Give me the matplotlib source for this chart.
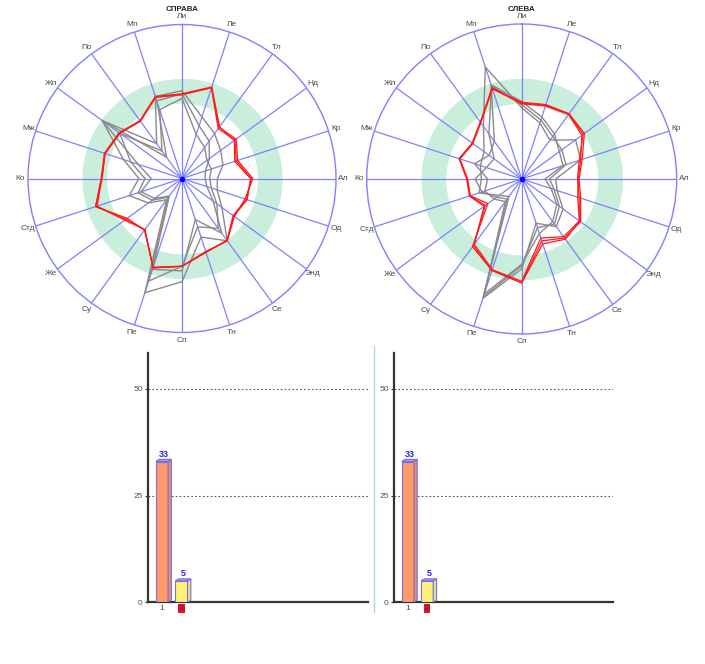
import numpy as np
import matplotlib
matplotlib.use("Agg")
import matplotlib.pyplot as plt
from matplotlib.patches import Polygon
from matplotlib.lines import Line2D

plt.rcParams['font.family'] = ['Liberation Sans', 'DejaVu Sans']

# ---------------- data ----------------
spokes = ["Ли", "Ле", "Тл", "Нд", "Кр", "Ал", "Од", "Энд", "Се", "Тн",
          "Сп", "Пе", "Су", "Же", "Стд", "Ко", "Мж", "Жп", "По", "Мп"]

band_low = 49
band_high = 65
r_max = 100

# СПРАВА (left radar)
right_red1 = [54.5, 62, 40, 42.5, 37, 45, 44, 41, 50, 50, 57, 61, 41, 45, 59, 52, 52.5, 50, 46, 55.5]
right_red2 = [54.5, 62, 41, 43.5, 38, 46, 43, 42, 50, 50, 57, 61, 41, 46, 58, 52, 52.5, 50, 46, 55.5]
right_red3 = [55, 62.5, 41.5, 42, 36, 44.5, 44.5, 41.5, 49.5, 50.5, 57, 60.5, 41.5, 44, 59, 52.5, 53, 50.5, 46.5, 56]
right_gray1 = [57, 42, 36, 31, 28, 23, 24, 32, 50, 40, 67, 78, 17, 27, 36, 28, 40, 64, 28, 56]
right_gray2 = [55, 36, 30, 22, 16, 15, 17, 25, 44, 28, 60, 62, 14, 22, 28, 20, 30, 64, 17, 53]
right_gray3 = [52, 30, 25, 20, 20, 18, 20, 28, 40, 33, 57, 70, 15, 24, 30, 24, 35, 50, 22, 47]

# СЛЕВА (right radar)
left_red1 = [49, 50, 52, 49, 39, 36, 39, 46, 48, 44, 67, 62, 54, 27, 35, 35, 42, 39, 45, 62]
left_red2 = [49.5, 50.5, 52, 50, 41, 37, 40, 47, 47, 42, 67, 62, 53, 29, 35, 35, 42, 39, 45, 61]
left_red3 = [48.5, 49.5, 51.5, 48, 40, 36.5, 38, 46, 46, 40, 66, 61.5, 52, 30, 35.5, 35.5, 42.5, 39.5, 45.5, 61.5]
left_gray1 = [46, 38, 31, 43, 40, 22, 24, 33, 38, 30, 58, 81, 14, 18, 29, 26, 28, 30, 42, 76]
left_gray2 = [50, 42, 36, 30, 28, 15, 20, 28, 34, 37, 55, 78, 18, 22, 25, 22, 32, 26, 30, 64]
left_gray3 = [48, 40, 34, 32, 30, 18, 22, 30, 36, 33, 56, 80, 16, 20, 27, 30, 24, 22, 36, 63]

bar_categories = ["1", "2"]
bar_values_right = [33, 5]
bar_values_left = [33, 5]
bar_colors = ["#ff9966", "#fff07a"]
side_colors = ["#f08a5c", "#f2e070"]
y_ticks = [0, 25, 50]

# ---------------- figure ----------------
W, H = 705, 664
fig = plt.figure(figsize=(W / 100, H / 100), dpi=100)

SPOKE = "#8080ff"
RED = "#ff1a1a"
GRAY = "#8a8a8a"
BAND = "#c9eedb"


def px_axes(x0, y0, x1, y1, **kw):
    return fig.add_axes([x0 / W, 1 - y1 / H, (x1 - x0) / W, (y1 - y0) / H], **kw)


def radar(cx, cy, rad, title, reds, grays):
    ax = px_axes(cx - rad, cy - rad, cx + rad, cy + rad, projection="polar")
    ax.set_theta_zero_location("N")
    ax.set_theta_direction(-1)
    ax.set_ylim(0, r_max)
    ax.grid(False)
    ax.set_yticks([])
    n = len(spokes)
    theta = np.arange(n) * 2 * np.pi / n
    ax.set_xticks([])
    for t, lab in zip(theta, spokes):
        ax.text(t, 105, lab, ha="center", va="center", fontsize=6,
                color="#4a4a4a", clip_on=False)
    ax.spines["polar"].set_color(SPOKE)
    ax.spines["polar"].set_linewidth(1.0)
    tt = np.linspace(0, 2 * np.pi, 361)
    ax.fill_between(tt, band_low, band_high, color=BAND, lw=0, zorder=1)
    for t in theta:
        ax.plot([t, t], [0, r_max], color=SPOKE, lw=0.9, zorder=2)
    tc = np.append(theta, theta[0])
    for g in grays:
        ax.plot(tc, g + g[:1], color=GRAY, lw=1.0, zorder=3)
    for r in reds:
        ax.plot(tc, r + r[:1], color=RED, lw=0.9, zorder=4)
    ax.plot([0], [0], "o", color="#0000ff", ms=3, zorder=5)
    fig.text(cx / W, 1 - 9.5 / H, title, ha="center", va="center",
             fontsize=5.8, fontweight="bold", color="#222222")
    return ax


radar(182, 178.5, 154, "СПРАВА",
      [right_red1, right_red2, right_red3], [right_gray1, right_gray2, right_gray3])
radar(521.7, 179, 155, "СЛЕВА",
      [left_red1, left_red2, left_red3], [left_gray1, left_gray2, left_gray3])


def bars(x0, x1, values):
    ax = px_axes(x0, 352.7, x1, 602.3)
    pos = np.arange(1, len(bar_categories) + 1)
    w = 0.63
    ax.set_xlim(0.3, 11.6)
    ax.set_ylim(0, 58.5)
    ax.bar(pos, values, width=w, color=bar_colors, edgecolor="#7070f0",
           linewidth=0.8, zorder=3)
    dx, dy = 0.17, 0.5
    for p, v, sc in zip(pos, values, side_colors):
        r = p + w / 2
        l = p - w / 2
        ax.add_patch(Polygon([(r, 0), (r + dx, dy), (r + dx, v + dy), (r, v)],
                             closed=True, fc=sc, ec="#7070f0", lw=0.8, zorder=3))
        ax.add_patch(Polygon([(l, v), (l + dx, v + dy), (r + dx, v + dy), (r, v)],
                             closed=True, fc="#b0a0c0", ec="#7070f0", lw=0.8, zorder=3))
        ax.text(p + dx / 2, v + dy + 0.2, str(v), ha="center", va="bottom",
                fontsize=6.5, color="#2020ff", fontweight="bold")
    for yv in y_ticks[1:]:
        ax.axhline(yv, color="#555555", lw=0.8, ls=(0, (1.5, 2)), zorder=1)
    ax.set_yticks(y_ticks)
    ax.set_yticklabels([str(v) for v in y_ticks], fontsize=6, color="#555555")
    ax.set_xticks(pos)
    labels = ax.set_xticklabels(bar_categories, fontsize=6, color="#444444")
    labels[1].set_color("#2020ff")
    labels[1].set_bbox(dict(facecolor="#ee1111", edgecolor="none", pad=0.6))
    ax.tick_params(axis="y", length=2, width=0.8, color="#333333", pad=2)
    ax.tick_params(axis="x", length=0, pad=2)
    for s in ["top", "right"]:
        ax.spines[s].set_visible(False)
    for s in ["left", "bottom"]:
        ax.spines[s].set_color("#333333")
        ax.spines[s].set_linewidth(1.6)
    ax.set_facecolor("none")
    return ax


bars(148.3, 368.3, bar_values_right)
bars(394.3, 612.7, bar_values_left)

fig.add_artist(Line2D([374 / W, 374 / W], [1 - 612 / H, 1 - 346 / H],
                      color="#a8dcd8", lw=1.0))

fig.savefig("out.png", dpi=100)
